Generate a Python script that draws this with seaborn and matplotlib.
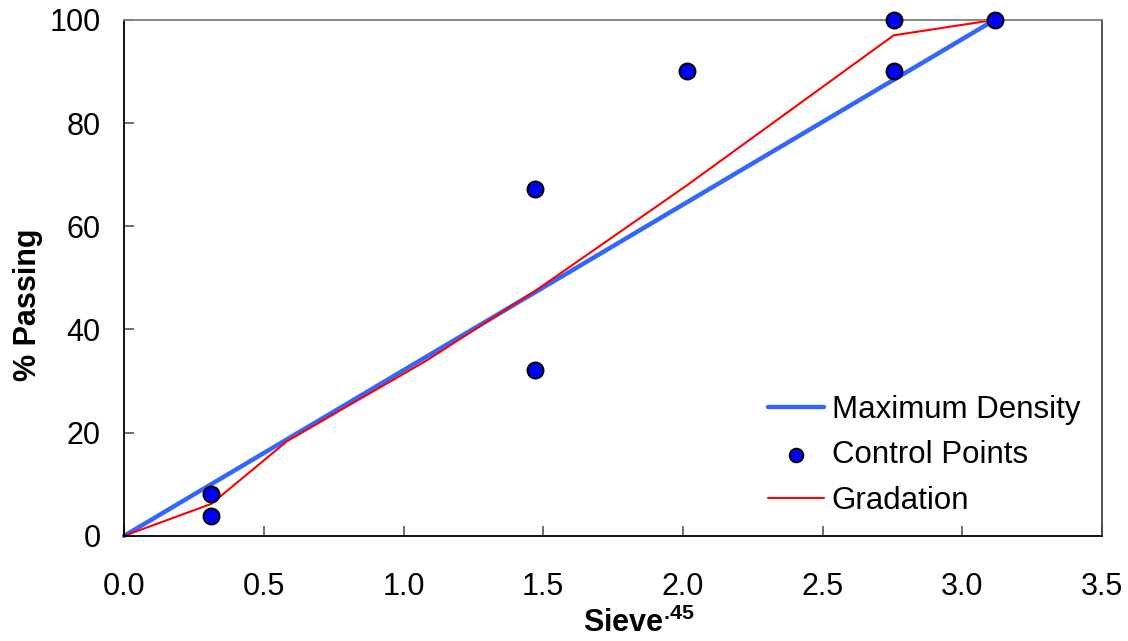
import matplotlib
matplotlib.use('Agg')
import matplotlib.pyplot as plt
import seaborn as sns
import pandas as pd

# sieve sizes raised to the 0.45 power
max_density_x = [0.0, 3.116]
max_density_y = [0.0, 100.0]

control_x = [0.312, 0.312, 1.472, 1.472, 2.016, 2.754, 2.754, 3.116]
control_y = [8.2, 3.9, 67.3, 32.2, 90.1, 100.0, 90.1, 100.0]

gradation_x = [0.0, 0.312, 0.426, 0.582, 0.795, 1.077, 1.472, 2.016, 2.754, 3.116]
gradation_y = [0.0, 6.2, 11.3, 18.3, 25.0, 33.8, 47.5, 68.0, 97.0, 100.0]

sns.set_style('white')
plt.rcParams['font.family'] = ['Liberation Sans', 'DejaVu Sans']
plt.rcParams['mathtext.fontset'] = 'custom'
plt.rcParams['mathtext.bf'] = 'Liberation Sans:bold'
plt.rcParams['text.color'] = 'black'
plt.rcParams['axes.labelcolor'] = 'black'

fig = plt.figure(figsize=(11.28, 6.41), dpi=100)
ax = fig.add_axes([0.110, 0.164, 0.867, 0.805])

md = pd.DataFrame({'x': max_density_x, 'y': max_density_y})
cp = pd.DataFrame({'x': control_x, 'y': control_y})
gr = pd.DataFrame({'x': gradation_x, 'y': gradation_y})

sns.lineplot(data=md, x='x', y='y', ax=ax, color='#3366FF', linewidth=3.2,
             label='Maximum Density', sort=False, clip_on=False)
sns.scatterplot(data=cp, x='x', y='y', ax=ax, color='#0000FF', s=130,
                edgecolor='black', linewidth=1.5, label='Control Points',
                clip_on=False, zorder=5)
sns.lineplot(data=gr, x='x', y='y', ax=ax, color='#FF0000', linewidth=1.5,
             label='Gradation', sort=False, clip_on=False)

ax.set_xlim(0, 3.5)
ax.set_ylim(0, 100)
ax.set_xticks([0.0, 0.5, 1.0, 1.5, 2.0, 2.5, 3.0, 3.5])
ax.set_xticklabels(['0.0', '0.5', '1.0', '1.5', '2.0', '2.5', '3.0', '3.5'])
ax.set_yticks([0, 20, 40, 60, 80, 100])

ax.tick_params(axis='both', direction='in', length=7, width=1.2,
               bottom=True, left=True, labelsize=22,
               colors='#555555', labelcolor='black')
ax.tick_params(axis='x', pad=26)
ax.tick_params(axis='y', pad=17)

ax.spines['left'].set_color('black')
ax.spines['bottom'].set_color('black')
ax.spines['top'].set_color('#808080')
ax.spines['right'].set_color('#444444')
for s in ax.spines.values():
    s.set_linewidth(1.3)

# \! cancels the thin space mathtext puts after a dot
ax.set_xlabel(r'Sieve$^{\mathbf{.\!45}}$', fontsize=22, fontweight='bold')
ax.set_ylabel('% Passing', fontsize=22, fontweight='bold')
ax.xaxis.set_label_coords(0.526, -0.140)
ax.yaxis.set_label_coords(-0.083, 0.448)

leg = ax.legend(loc='upper left', bbox_to_anchor=(0.642, 0.304), frameon=False,
                fontsize=22.5, handlelength=1.8, handletextpad=0.25,
                labelspacing=0.5, borderpad=0, markerscale=0.85)

fig.savefig('out.png', dpi=100)
